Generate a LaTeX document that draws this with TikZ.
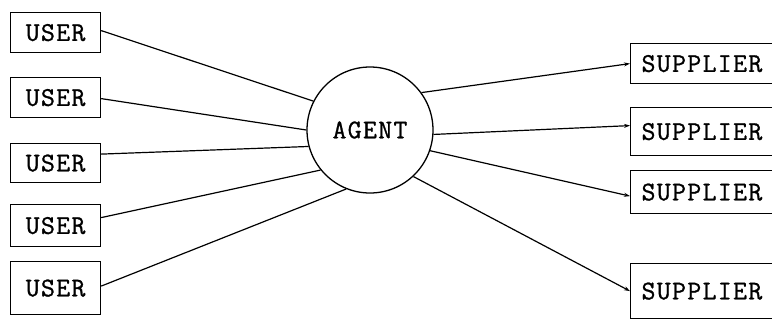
\documentclass[tikz,border=0pt]{standalone}
\usepackage{fontspec}
\setmonofont{Latin Modern Mono}[LetterSpace=5,FakeBold=1]
\usetikzlibrary{arrows.meta,calc}
\begin{document}
\begin{tikzpicture}[x=1pt,y=-1pt,
  every node/.style={font=\ttfamily\fontsize{27}{29}\selectfont},
  userbox/.style={draw,line width=1.2pt,minimum width=90pt,inner sep=0pt,anchor=north west},
  supbox/.style={draw,line width=1.2pt,minimum width=170pt,inner sep=0pt,anchor=north west,text width=160pt,align=left},
  link/.style={line width=1.2pt},
  arr/.style={link,-{Stealth[length=6pt,width=4pt]}}]
\useasboundingbox (0,0) rectangle (772,322);
\clip (0,0) rectangle (772,322);
\node[userbox,minimum height=40pt] (u1) at (10,12) {USER};
\node[userbox,minimum height=40pt] (u2) at (10,77) {USER};
\node[userbox,minimum height=39pt] (u3) at (10,143) {USER};
\node[userbox,minimum height=42pt] (u4) at (10,204) {USER};
\node[userbox,minimum height=53pt] (u5) at (10,261) {USER};
\node[draw,circle,line width=1.3pt,minimum size=126pt,inner sep=0pt] (ag) at (370,130) {AGENT};
\node[supbox,minimum height=40pt] (s1) at (630,43) {\hspace*{6pt}SUPPLIER};
\node[supbox,minimum height=48pt] (s2) at (630,107) {\hspace*{6pt}SUPPLIER};
\node[supbox,minimum height=43pt] (s3) at (630,170) {\hspace*{6pt}SUPPLIER};
\node[supbox,minimum height=55pt] (s4) at (630,263) {\hspace*{6pt}SUPPLIER};
\draw[link] ($(u1.east)+(0,-2)$) -- (ag.153);
\draw[link] ($(u2.east)+(0,1)$) -- (ag.180);
\draw[link] ($(u3.east)+(0,-9)$) -- (ag.195);
\draw[link] ($(u4.east)+(0,-8)$) -- (ag.219);
\draw[link] ($(u5.east)+(0,-2)$) -- (ag.248);
\draw[arr] (ag.36) -- (s1.west);
\draw[arr] (ag.-4) -- ($(s2.west)+(0,-6)$);
\draw[arr] (ag.-19) -- ($(s3.west)+(0,4)$);
\draw[arr] (ag.-47) -- (s4.west);
\end{tikzpicture}
\end{document}
